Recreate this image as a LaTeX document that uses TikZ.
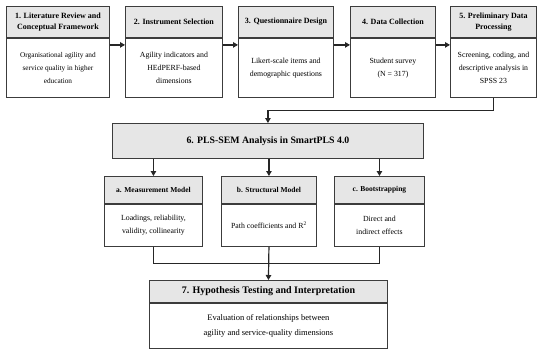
\documentclass[tikz,border=0pt]{standalone}
\usepackage{fontspec}
\setmainfont{Liberation Serif}
\usetikzlibrary{positioning, calc, arrows.meta}

\definecolor{hdrgray}{HTML}{E6E6E6}
\definecolor{boxline}{HTML}{3C3C3C}

\tikzset{
  hdr/.style={draw=boxline, fill=hdrgray, line width=0.9pt, align=center, inner sep=0pt,
    font=\bfseries\fontsize{8}{11.6}\selectfont},
  body/.style={draw=boxline, fill=white, line width=0.9pt, align=center, inner sep=0pt,
    font=\fontsize{7.8}{12.7}\selectfont},
  subhdr/.style={hdr, font=\bfseries\fontsize{7.5}{10}\selectfont},
  flow/.style={-{Triangle[length=5pt,width=5.5pt]}, line width=1.2pt, draw=black!85},
}

\begin{document}
\begin{tikzpicture}[x=1pt, y=-1pt]
        \fill[white] (0,0) rectangle (550,356);
        \useasboundingbox (0,0) rectangle (550,356);

        % ==========================================
        % TOP ROW: Steps 1 to 5
        % ==========================================
        \node[hdr, minimum width=103pt, minimum height=31pt, anchor=north west] (h1) at (6,6)
            {1. Literature Review and\\Conceptual Framework};
        \node[body, minimum width=103pt, minimum height=59pt, anchor=north,
              font=\fontsize{7.3}{12.7}\selectfont] (b1) at (h1.south)
            {Organisational agility and\\service quality in higher\\education};

        \node[hdr, minimum width=97pt, minimum height=31pt, anchor=north west] (h2) at (125,6)
            {2. Instrument Selection};
        \node[body, minimum width=97pt, minimum height=59pt, anchor=north] (b2) at (h2.south)
            {Agility indicators and\\HEdPERF-based\\dimensions};

        \node[hdr, minimum width=95pt, minimum height=31pt, anchor=north west] (h3) at (238,6)
            {3. Questionnaire Design};
        \node[body, minimum width=95pt, minimum height=59pt, anchor=north] (b3) at (h3.south)
            {Likert-scale items and\\demographic questions};

        \node[hdr, minimum width=85pt, minimum height=31pt, anchor=north west] (h4) at (350,6)
            {4. Data Collection};
        \node[body, minimum width=85pt, minimum height=59pt, anchor=north] (b4) at (h4.south)
            {Student survey\\(N = 317)};

        \node[hdr, minimum width=86pt, minimum height=31pt, anchor=north west] (h5) at (450,6)
            {5. Preliminary Data\\Processing};
        \node[body, minimum width=86pt, minimum height=59pt, anchor=north] (b5) at (h5.south)
            {Screening, coding, and\\descriptive analysis in\\SPSS 23};

        % Arrows between steps
        \foreach \a/\b in {1/2, 2/3, 3/4, 4/5}
            \draw[flow] ($(h\a.south east)+(0,7)$) -- ($(h\b.south west)+(0,7)$);

        % ==========================================
        % MIDDLE: PLS-SEM block and its three parts
        % ==========================================
        \node[hdr, minimum width=311pt, minimum height=35pt, anchor=north west,
              font=\bfseries\fontsize{9.8}{12}\selectfont] (s6) at (112,123)
            {6. PLS-SEM Analysis in SmartPLS 4.0};

        \draw[flow] (b5.south) -- ++(0,13) -| (s6.north);

        \node[subhdr, minimum width=98pt, minimum height=27pt, anchor=north west] (ha) at (104,176)
            {a. Measurement Model};
        \node[body, minimum width=98pt, minimum height=42pt, anchor=north] (ba) at (ha.south)
            {Loadings, reliability,\\validity, collinearity};

        \node[subhdr, minimum width=95pt, minimum height=27pt, anchor=north west] (hb) at (221,176)
            {b. Structural Model};
        \node[body, minimum width=95pt, minimum height=42pt, anchor=north] (bb) at (hb.south)
            {Path coefficients and R\textsuperscript{2}};

        \node[subhdr, minimum width=90pt, minimum height=27pt, anchor=north west] (hc) at (334,176)
            {c. Bootstrapping};
        \node[body, minimum width=90pt, minimum height=42pt, anchor=north] (bc) at (hc.south)
            {Direct and\\indirect effects};

        \foreach \p in {a, b, c}
            \draw[flow] (s6.south -| h\p.north) -- (h\p.north);

        % ==========================================
        % BOTTOM: Hypothesis testing
        % ==========================================
        \node[hdr, minimum width=238pt, minimum height=22pt, anchor=north west,
              font=\bfseries\fontsize{10}{12}\selectfont] (h7) at (149,280)
            {7. Hypothesis Testing and Interpretation};
        \node[body, minimum width=238pt, minimum height=45pt, anchor=north,
              font=\fontsize{8.5}{14.3}\selectfont] (b7) at (h7.south)
            {Evaluation of relationships between\\agility and service-quality dimensions};

        % Joining the three parts
        \draw[line width=1.2pt, draw=black!85] (ba.south) -- ++(0,17) -| (bc.south);
        \draw[flow] (bb.south) -- (h7.north);

\end{tikzpicture}
\end{document}
